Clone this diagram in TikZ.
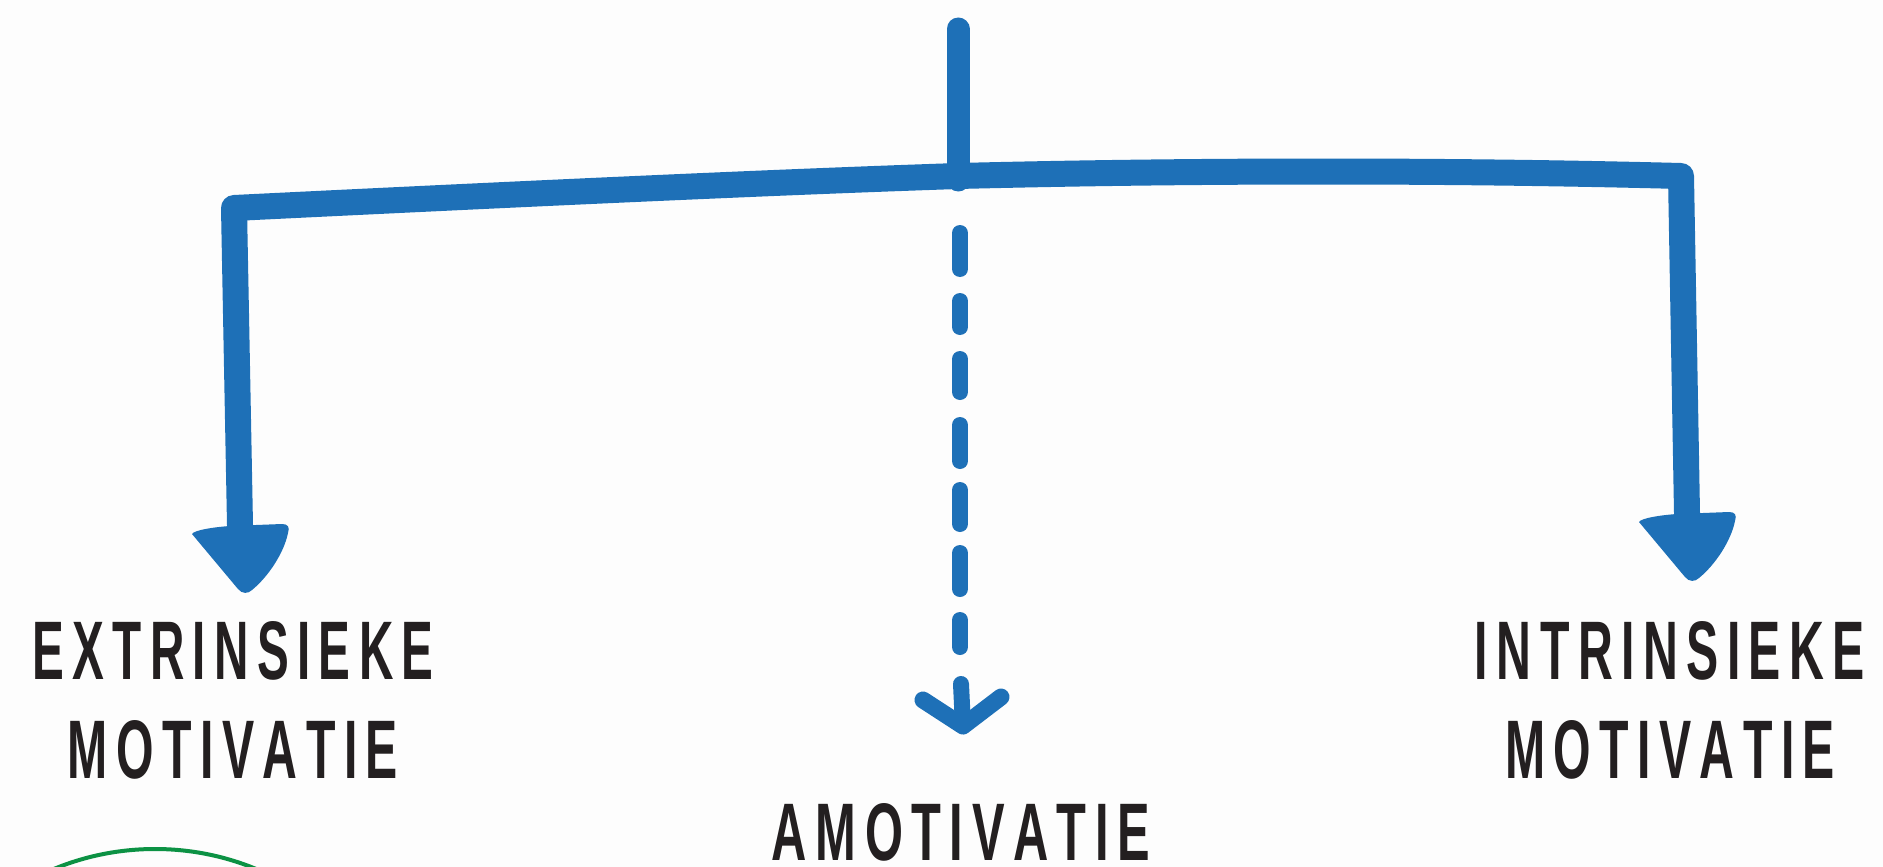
\documentclass[tikz,border=0pt]{standalone}
\usepackage{fontspec}
\setmainfont{Liberation Sans}
\usepackage{graphicx}
\definecolor{mblue}{RGB}{30,112,183}
\definecolor{mgreen}{RGB}{12,146,68}
\definecolor{mtext}{RGB}{35,31,32}
\definecolor{mbg}{RGB}{253,253,253}
\newlength\lsp
\def\myspread#1{\ifx#1\relax\else#1\hskip\lsp\expandafter\myspread\fi}
\newcommand\capword[3]{\resizebox{#1}{#2}{\bfseries\fontsize{20}{24}\selectfont\setlength\lsp{3.5pt}\myspread#3\relax\unskip}}
\tikzset{
  txt/.style={inner sep=0pt, outer sep=0pt, text=mtext},
  bluebar/.style={draw=mblue, line width=26, line cap=round, line join=round},
  dashseg/.style={draw=mblue, line width=16, line cap=round, line join=round},
  headpic/.pic={\fill[mblue] (-48,9) .. controls (-46,5) and (-25,2) .. (-10,1) -- (42,-1) .. controls (48,-1) and (50,2) .. (48,8) .. controls (44,28) and (28,52) .. (12,65) .. controls (8,69) and (2,69) .. (-2,64) -- cycle;}
}
\begin{document}
\begin{tikzpicture}[x=1pt,y=-1pt]
\useasboundingbox (0,0) rectangle (1883,867);
\fill[mbg] (0,0) rectangle (1883,867);
% coordinates
\coordinate (top) at (958,29);
\coordinate (hubtop) at (958,180);
\coordinate (hub) at (958,176);
\coordinate (lc) at (234,208);
\coordinate (lb) at (240,525);
\coordinate (rc) at (1681,176);
\coordinate (rb) at (1687,513);
% main connectors
\draw[bluebar, line width=23] (top) -- (hubtop);
\draw[bluebar] (lb) -- (lc) .. controls (480,196) and (750,183) .. (hub) .. controls (1200,170) and (1450,170) .. (rc) -- (rb);
\pic at (lb) {headpic};
\pic at (rb) {headpic};
% dashed arrow
\foreach \a/\b in {225/277, 293/335, 351/400, 417/469, 482/532, 545/597, 612/655}
  \draw[dashseg] (960,{\a+8}) -- (960,{\b-8});
\coordinate (dtip) at (963,726);
\draw[dashseg] (961,684) -- (dtip);
\draw[dashseg, line width=17] (923,700) -- (dtip) -- (1001,697);
% labels
\node[txt, anchor=base] (ext1) at (233,679) {\capword{401pt}{58pt}{EXTRINSIEKE}};
\node[txt, anchor=base] (ext2) at (233,778) {\capword{330pt}{58pt}{MOTIVATIE}};
\node[txt, anchor=base] (int1) at (1670,679) {\capword{390pt}{58pt}{INTRINSIEKE}};
\node[txt, anchor=base] (int2) at (1670,778) {\capword{330pt}{58pt}{MOTIVATIE}};
\node[txt, anchor=base] (amo) at (961,860) {\capword{378pt}{57pt}{AMOTIVATIE}};
% green arc
\begin{scope}
\clip (0,0) rectangle (1883,867);
\draw[mgreen, line width=4] (155,1114) circle[radius=265pt];
\end{scope}
\end{tikzpicture}
\end{document}
